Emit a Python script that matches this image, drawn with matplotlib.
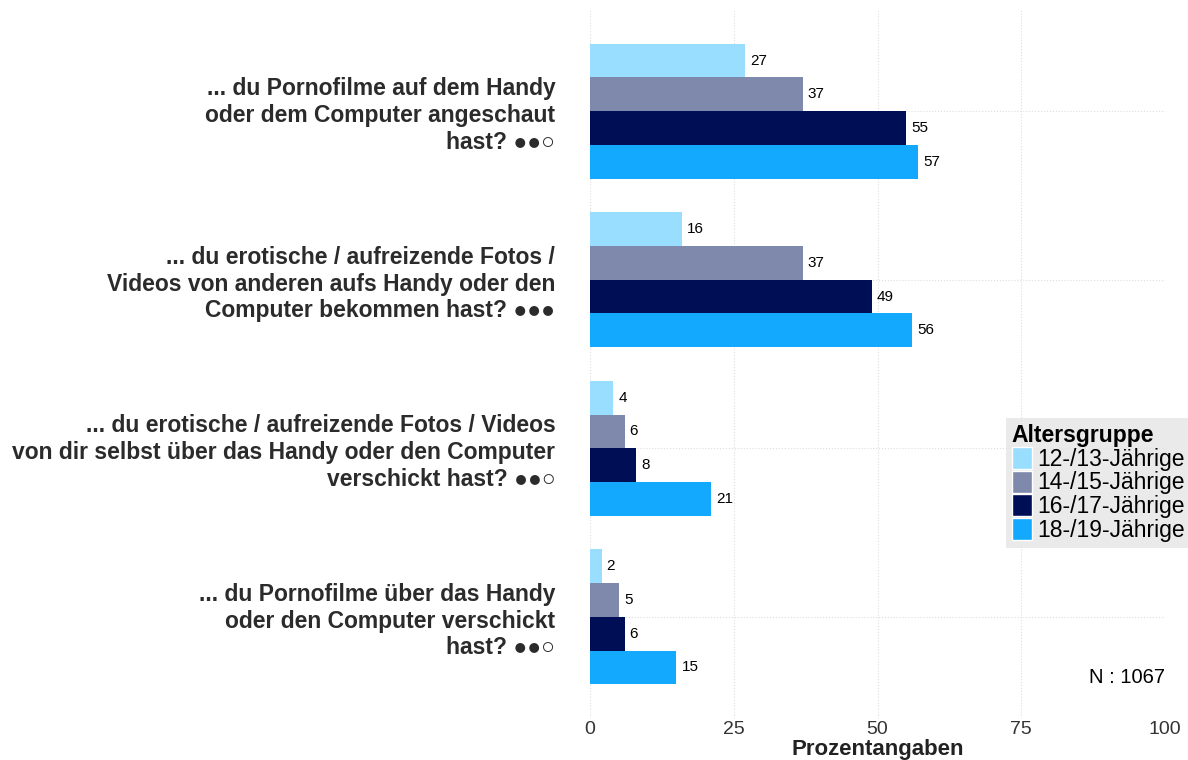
import matplotlib.pyplot as plt
from matplotlib.patches import Patch
import numpy as np

plt.rcParams['font.family'] = ['Liberation Sans', 'DejaVu Sans']

# Daten
fragen = [
    '... du Pornofilme auf dem Handy\noder dem Computer angeschaut\nhast? ●●○',
    '... du erotische / aufreizende Fotos /\nVideos von anderen aufs Handy oder den\nComputer bekommen hast? ●●●',
    '... du erotische / aufreizende Fotos / Videos\nvon dir selbst über das Handy oder den Computer\nverschickt hast? ●●○',
    '... du Pornofilme über das Handy\noder den Computer verschickt\nhast? ●●○',
]
gruppen = ['12-/13-Jährige', '14-/15-Jährige', '16-/17-Jährige', '18-/19-Jährige']
werte_12_13 = [27, 16, 4, 2]
werte_14_15 = [37, 37, 6, 5]
werte_16_17 = [55, 49, 8, 6]
werte_18_19 = [57, 56, 21, 15]
farben = ['#99DDFF', '#7F89AC', '#000F55', '#12A9FF']
n_text = 'N : 1067'

serien = [werte_12_13, werte_14_15, werte_16_17, werte_18_19]

fig = plt.figure(figsize=(11.88, 7.6), dpi=100)
ax = fig.add_axes([590 / 1188, 1 - 718 / 760, 575 / 1188, 708 / 760])

y = np.arange(len(fragen))[::-1] + 1  # oberste Frage oben
h = 0.2
offsets = [0.3, 0.1, -0.1, -0.3]

for werte, farbe, off in zip(serien, farben, offsets):
    bars = ax.barh(y + off, werte, height=h, color=farbe, zorder=2)
    for b, v in zip(bars, werte):
        ax.text(v + 0.9, b.get_y() + h / 2, str(v), va='center', ha='left',
                fontsize=11, color='black')

ax.set_xlim(0, 100)
ax.set_ylim(0.4, 4.6)
ax.set_xticks([0, 25, 50, 75, 100])
ax.set_yticks(y)
ax.set_yticklabels(fragen, fontsize=16.5, fontweight='bold', color='#2B2B2B',
                   linespacing=1.2)
ax.tick_params(axis='y', length=0, pad=25)
ax.tick_params(axis='x', length=0, pad=2, labelsize=14, labelcolor='#333333')
for s in ax.spines.values():
    s.set_visible(False)
ax.grid(True, linestyle=':', color='#DDDDDD', linewidth=0.8, zorder=0)
ax.set_axisbelow(True)
ax.set_xlabel('Prozentangaben', fontsize=16, fontweight='bold', color='#222222')
ax.xaxis.set_label_coords(0.5, -0.029)

ax.text(1.0, 0.057, n_text, transform=ax.transAxes, ha='right', va='center', fontsize=14.5)

handles = [Patch(facecolor=f, edgecolor='white', linewidth=1) for f in farben]
leg = fig.legend(handles, gruppen, title='Altersgruppe', loc='upper left',
                 bbox_to_anchor=(1006 / 1188, 1 - 418 / 760), bbox_transform=fig.transFigure,
                 borderaxespad=0, frameon=True, fancybox=False, fontsize=16.5,
                 title_fontproperties={'weight': 'bold', 'size': 16.5},
                 alignment='left', handlelength=0.9, handleheight=1.1, handletextpad=0.2,
                 labelspacing=0.0, borderpad=0.25)
leg.get_frame().set_facecolor('#E5E5E5')
leg.get_frame().set_edgecolor('none')

fig.savefig('out.png', dpi=100)
